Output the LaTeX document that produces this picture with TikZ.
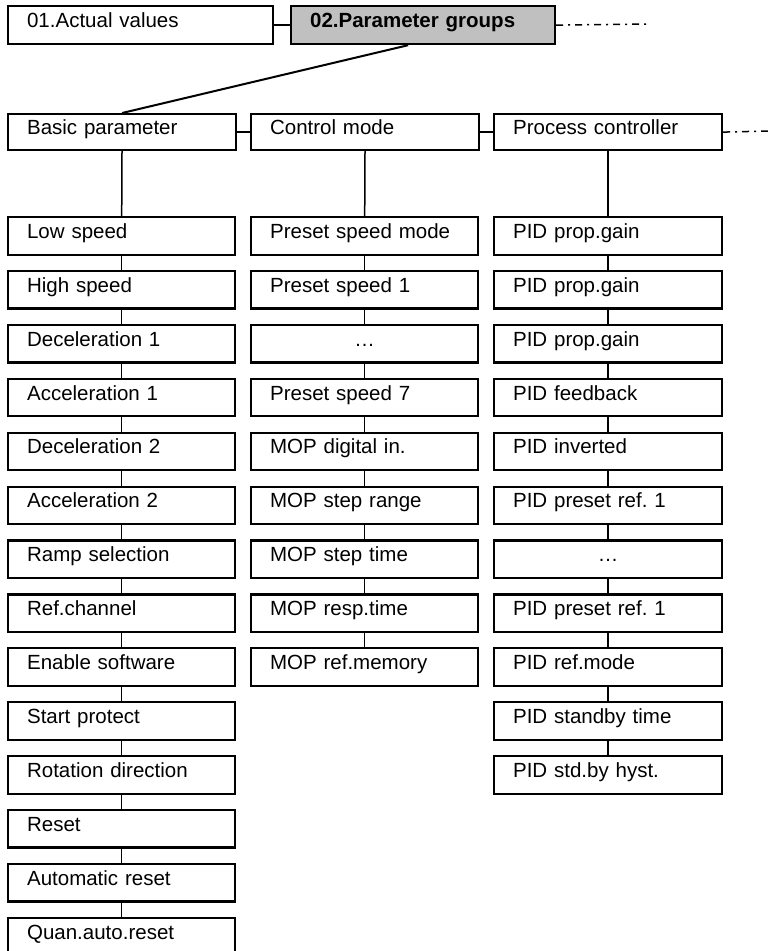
\documentclass[tikz,border=0pt]{standalone}
\usepackage{fontspec}
\setmainfont{Liberation Sans}
\frenchspacing
\definecolor{groupgray}{RGB}{192,192,192}
\tikzset{
  box/.style={draw, line width=2.2pt, anchor=north west, inner xsep=19pt, inner ysep=0pt,
    text height=15pt, text depth=10pt, align=left, font=\fontsize{20.5}{24}\selectfont},
  topbox/.style={box, text width=#1, minimum height=38pt},
  headbox/.style={box, text width=190pt, minimum height=36pt},
  colbox/.style={box, text width=189pt, minimum height=37.5pt},
  dotsbox/.style={colbox, align=center},
  link/.style={line width=1.5pt},
  dashdot/.style={line width=1.5pt, dash pattern=on 7pt off 5pt on 2pt off 5pt},
}
\begin{document}
\begin{tikzpicture}[x=1pt, y=-1pt]
		\useasboundingbox (0,0) rectangle (768,951);

		% menu level
		\node[topbox=227pt] at (7, 5) (act) {01.Actual values};
		\node[topbox=226pt, fill=groupgray, font=\fontsize{20.5}{24}\selectfont\bfseries] at (290, 5) (grp) {02.Parameter groups};
		\coordinate (grpend) at (650, 24);

		% groups
		\node[headbox] at (7, 113) (basic) {Basic parameter};
		\node[headbox] at (250, 113) (ctrl) {Control mode};
		\node[headbox, text width=190pt] at (493, 113) (proc) {Process controller};
		\coordinate (procend) at (768, 131);

		% basic parameter
		\node[colbox] at (7, 216) (b1) {Low speed};
		\node[colbox] at (7, 269.9) (b2) {High speed};
		\node[colbox] at (7, 323.8) (b3) {Deceleration 1};
		\node[colbox] at (7, 377.7) (b4) {Acceleration 1};
		\node[colbox] at (7, 431.6) (b5) {Deceleration 2};
		\node[colbox] at (7, 485.5) (b6) {Acceleration 2};
		\node[colbox] at (7, 539.4) (b7) {Ramp selection};
		\node[colbox] at (7, 593.3) (b8) {Ref.channel};
		\node[colbox] at (7, 647.2) (b9) {Enable software};
		\node[colbox] at (7, 701.1) (b10) {Start protect};
		\node[colbox] at (7, 755) (b11) {Rotation direction};
		\node[colbox] at (7, 808.9) (b12) {Reset};
		\node[colbox] at (7, 862.8) (b13) {Automatic reset};
		\node[colbox] at (7, 916.7) (b14) {Quan.auto.reset};

		% control mode
		\node[colbox] at (250, 216) (c1) {Preset speed mode};
		\node[colbox] at (250, 269.9) (c2) {Preset speed 1};
		\node[dotsbox] at (250, 323.8) (c3) {…};
		\node[colbox] at (250, 377.7) (c4) {Preset speed 7};
		\node[colbox] at (250, 431.6) (c5) {MOP digital in.};
		\node[colbox] at (250, 485.5) (c6) {MOP step range};
		\node[colbox] at (250, 539.4) (c7) {MOP step time};
		\node[colbox] at (250, 593.3) (c8) {MOP resp.time};
		\node[colbox] at (250, 647.2) (c9) {MOP ref.memory};

		% process controller
		\node[colbox, text width=190pt] at (493, 216) (p1) {PID prop.gain};
		\node[colbox, text width=190pt] at (493, 269.9) (p2) {PID prop.gain};
		\node[colbox, text width=190pt] at (493, 323.8) (p3) {PID prop.gain};
		\node[colbox, text width=190pt] at (493, 377.7) (p4) {PID feedback};
		\node[colbox, text width=190pt] at (493, 431.6) (p5) {PID inverted};
		\node[colbox, text width=190pt] at (493, 485.5) (p6) {PID preset ref. 1};
		\node[dotsbox, text width=190pt] at (493, 539.4) (p7) {…};
		\node[colbox, text width=190pt] at (493, 593.3) (p8) {PID preset ref. 1};
		\node[colbox, text width=190pt] at (493, 647.2) (p9) {PID ref.mode};
		\node[colbox, text width=190pt] at (493, 701.1) (p10) {PID standby time};
		\node[colbox, text width=190pt] at (493, 755) (p11) {PID std.by hyst.};

		% draw edges
		\draw[line width=2pt] (act) -- (grp);
		\draw[dashdot] (grp.east) -- (grpend);
		\draw[line width=2pt] ([xshift=-15pt]grp.south) -- (basic.north);
		\draw[line width=2pt] (basic) -- (ctrl);
		\draw[line width=2pt] (ctrl) -- (proc);
		\draw[dashdot] (proc.east) -- (procend);

		\draw[link] (basic) -- (b1);
		\draw[link] (ctrl) -- (c1);
		\draw[link] (proc) -- (p1);

		\foreach \n/\k in {b/13, c/8, p/10}
			\foreach \i in {1,...,\k} {
				\pgfmathtruncatemacro{\j}{\i+1}
				\draw[link] (\n\i) -- (\n\j);
			}
\end{tikzpicture}
\end{document}
